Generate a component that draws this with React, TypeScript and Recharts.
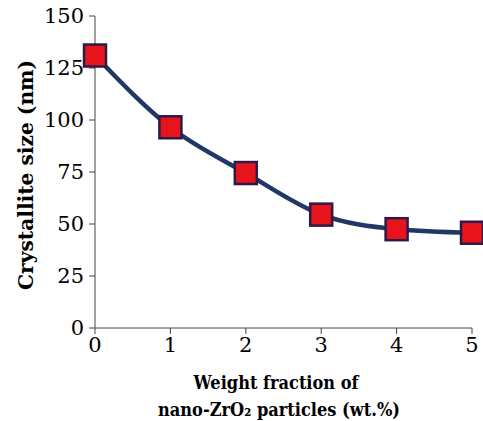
import { CartesianGrid, Label, Line, LineChart, XAxis, YAxis } from 'recharts';

const weightFraction = [0, 1, 2, 3, 4, 5];
const crystalliteSize = [131, 96.5, 74.5, 54.5, 47.5, 45.8];
const xTicks = [0, 1, 2, 3, 4, 5];
const yTicks = [0, 25, 50, 75, 100, 125, 150];

const data = weightFraction.map((x, i) => ({ x, size: crystalliteSize[i] }));

// Liberation Serif doesn't resolve here, DejaVu Serif does
const serif = '"DejaVu Serif", serif';

function SquareDot(props: { cx?: number; cy?: number; index?: number }) {
  const { cx, cy, index } = props;
  if (cx == null || cy == null) return null;
  return (
    <rect
      key={index}
      x={cx - 11}
      y={cy - 11}
      width={22}
      height={22}
      fill="#e8141c"
      stroke="#2b1a4a"
      strokeWidth={2.5}
    />
  );
}

function XTitle() {
  return (
    <g fontFamily={serif} fontWeight="bold" fontSize={19} fill="#000" textAnchor="middle">
      <text x={276} y={389} textLength={165} lengthAdjust="spacingAndGlyphs">
        Weight fraction of
      </text>
      <text x={279} y={416} textLength={242} lengthAdjust="spacingAndGlyphs">
        nano-ZrO₂ particles (wt.%)
      </text>
    </g>
  );
}

function YTitle() {
  return (
    <text
      x={33}
      y={175}
      transform="rotate(-90 33 175)"
      fontFamily={serif}
      fontWeight="bold"
      fontSize={21}
      fill="#000"
      textAnchor="middle"
      textLength={230}
      lengthAdjust="spacingAndGlyphs"
    >
      Crystallite size (nm)
    </text>
  );
}

export default function App() {
  return (
    <div style={{ position: 'absolute', left: 0, top: 0, background: '#fff' }}>
      <LineChart
        width={483}
        height={421}
        data={data}
        margin={{ top: 16, right: 11, bottom: 63, left: 0 }}
      >
        <CartesianGrid stroke="none" />
        <XAxis
          dataKey="x"
          type="number"
          domain={[0, 5]}
          ticks={xTicks}
          height={30}
          stroke="#444"
          tickSize={6}
          tickMargin={3}
          tick={{ fontFamily: serif, fontSize: 21, fill: '#000' }}
        >
          <Label content={() => <XTitle />} />
        </XAxis>
        <YAxis
          type="number"
          domain={[0, 150]}
          ticks={yTicks}
          width={95}
          stroke="#444"
          tickSize={6}
          tickMargin={5}
          tick={{ fontFamily: serif, fontSize: 21, fill: '#000' }}
        >
          <Label content={() => <YTitle />} />
        </YAxis>
        <Line
          type="monotone"
          dataKey="size"
          stroke="#1f3864"
          strokeWidth={4.5}
          dot={<SquareDot />}
          activeDot={false}
          isAnimationActive={false}
        />
      </LineChart>
    </div>
  );
}
